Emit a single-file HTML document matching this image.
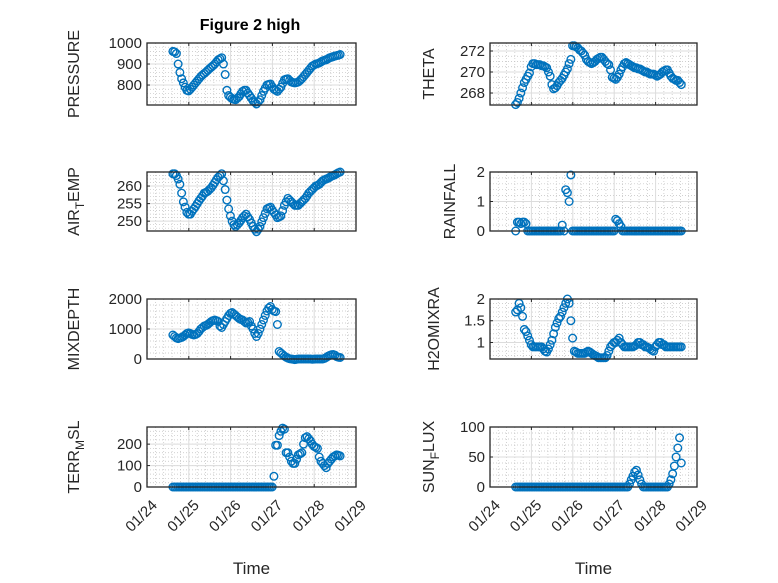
<!DOCTYPE html>
<html><head><meta charset="utf-8">
<style>
html,body{margin:0;padding:0;background:#fff;}
svg{display:block;font-family:"Liberation Sans","DejaVu Sans",sans-serif;}
</style></head>
<body>
<svg id="fig" width="778" height="583" viewBox="0 0 778 583">
<rect width="778" height="583" fill="#fff"/>
<text x="250" y="30" text-anchor="middle" font-size="16" font-weight="bold" fill="#000">Figure 2 high</text>
</svg>
<script>
const startDay = 0.62;
const endDay = 4.62;
const dayTicks = [0,1,2,3,4,5];
const dayLabels = ["01/24","01/25","01/26","01/27","01/28","01/29"];

const pressure = [960,958,950,900,860,830,810,790,775,772,780,790,800,810,820,830,840,848,855,862,870,878,885,892,900,910,920,925,930,900,850,775,750,742,735,732,730,738,745,758,770,775,775,762,750,738,725,718,710,720,730,750,770,785,800,803,805,792,780,775,770,780,790,808,825,828,830,822,815,812,810,812,815,822,830,840,850,860,870,880,890,895,900,902,905,910,915,918,920,925,930,932,935,938,940,942,945];
const theta = [266.9,267.1,267.5,268.0,268.5,269.0,269.3,269.6,269.9,270.5,270.8,270.8,270.7,270.7,270.7,270.6,270.6,270.5,270.4,270.0,269.6,268.8,268.4,268.5,268.7,269.0,269.2,269.4,269.7,270.0,270.3,270.8,271.2,272.5,272.5,272.4,272.3,272.1,272.0,271.8,271.6,271.2,271.0,270.9,270.8,270.9,271.0,271.2,271.3,271.4,271.4,271.2,271.0,270.8,270.7,270.2,269.5,269.4,269.3,269.5,269.8,270.2,270.5,270.8,270.9,270.8,270.7,270.6,270.5,270.4,270.4,270.3,270.3,270.2,270.1,270.0,270.0,269.9,269.8,269.8,269.8,269.7,269.6,269.7,269.8,270.0,270.1,270.2,270.2,269.9,269.6,269.4,269.3,269.2,269.2,269.0,268.8];
const airTemp = [263.5,263.5,263,262,260.5,258,255.5,254,252.5,252,252,252.8,253.5,254.2,255,255.8,256.5,257.2,258,258.2,258.5,259,259.5,260.2,261,261.8,262.5,263,263.5,261.5,259,256,253.5,251.5,250,249,248.5,249,249.5,250.2,251,251.5,252,251.2,250.5,249.5,248.5,247.7,247,247.7,248.5,249.8,251,252.2,253.5,253.8,254,253.2,252.5,251.8,251,251.2,251.5,253,254.5,255.5,256.5,256,255.5,255,254.5,254.5,254.5,255,255.5,256,256.5,257.2,258,258.5,259,259.5,260,260.2,260.5,261,261.5,261.8,262,262.2,262.5,262.8,263,263.2,263.5,263.8,264];
const rainfall = [0,0.3,0.3,0.25,0.3,0.3,0.25,0,0,0, 0,0,0,0,0,0,0,0,0,0, 0,0,0,0,0,0,0,0.2,0,1.4, 1.3,1.0,1.9,0,0,0,0,0,0,0, 0,0,0,0,0,0,0,0,0,0, 0,0,0,0,0,0,0,0,0.4,0.35, 0.25,0.15,0,0,0,0,0,0,0,0, 0,0,0,0,0,0,0,0,0,0, 0,0,0,0,0,0,0,0,0,0, 0,0,0,0,0,0,0];
const mixDepth = [800,750,700,680,700,720,750,800,850,870,850,820,800,820,850,920,1000,1050,1100,1120,1150,1200,1250,1280,1300,1280,1250,1100,1050,1150,1250,1350,1450,1520,1550,1500,1450,1400,1350,1320,1300,1250,1200,1220,1250,1100,1000,850,750,850,1000,1150,1300,1450,1600,1700,1750,1650,1600,1580,1150,250,200,150,100,60,30,10,0,-10,-20,-10,0,0,0,0,0,0,0,0,-10,-5,0,0,0,0,0,20,50,90,120,140,150,130,80,60,50];
const h2oMixRa = [1.7,1.75,1.9,1.8,1.6,1.3,1.25,1.15,1.05,0.95,0.9,0.9,0.9,0.9,0.9,0.9,0.85,0.8,0.78,0.85,0.95,1.05,1.2,1.35,1.45,1.55,1.6,1.7,1.8,1.9,2.0,1.9,1.5,1.1,0.8,0.78,0.75,0.75,0.75,0.75,0.75,0.78,0.8,0.78,0.75,0.72,0.7,0.68,0.65,0.65,0.65,0.65,0.65,0.7,0.8,0.9,0.95,1.0,1.0,1.05,1.1,1.0,0.95,0.9,0.9,0.9,0.9,0.9,0.9,0.92,0.95,1.0,1.0,0.95,0.95,0.9,0.9,0.88,0.85,0.82,0.8,0.9,0.95,1.0,1.0,0.95,0.95,0.9,0.9,0.9,0.9,0.9,0.9,0.9,0.9,0.9,0.9];
const terrMsl = [0,0,0,0,0,0,0,0,0,0, 0,0,0,0,0,0,0,0,0,0, 0,0,0,0,0,0,0,0,0,0, 0,0,0,0,0,0,0,0,0,0, 0,0,0,0,0,0,0,0,0,0, 0,0,0,0,0,0,0,0,50,195,195,240,260,275,270,160,160,140,120,110,110,130,150,155,160,200,230,235,225,215,200,190,185,180,140,120,110,100,90,110,120,130,140,145,150,148,145];
const sunFlux = [0,0,0,0,0,0,0,0,0,0, 0,0,0,0,0,0,0,0,0,0, 0,0,0,0,0,0,0,0,0,0, 0,0,0,0,0,0,0,0,0,0, 0,0,0,0,0,0,0,0,0,0, 0,0,0,0,0,0,0,0,0,0, 0,0,0,0,0,0,5,12,18,25, 28,20,12,5,0,0,0,0,0,0, 0,0,0,0,0,0,0,0,0,5, 12,22,35,50,65,82,40];

const pressureTicks = [800,900,1000];
const thetaTicks = [268,270,272];
const airTicks = [250,255,260];
const rainTicks = [0,1,2];
const mixTicks = [0,1000,2000];
const h2oTicks = [1,1.5,2];
const terrTicks = [0,100,200];
const sunTicks = [0,50,100];

const NS = "http://www.w3.org/2000/svg";
const svg = document.getElementById("fig");
function mk(tag, attrs, parent) {
  const e = document.createElementNS(NS, tag);
  for (const k in attrs) e.setAttribute(k, attrs[k]);
  (parent || svg).appendChild(e);
  return e;
}

const cols = [{x0:147,x1:356},{x0:490,x1:697}];
const rows = [{y0:43,y1:105},{y0:172,y1:231},{y0:299,y1:359},{y0:427,y1:487}];

const panels = [
  {name:"pressure",c:0,r:0,data:pressure,ymin:705,ymax:1000,ticks:pressureTicks,minor:20,label:["PRESSURE"],lx:79},
  {name:"theta",c:1,r:0,data:theta,ymin:266.86,ymax:272.76,ticks:thetaTicks,minor:0.5,label:["THETA"],lx:434},
  {name:"air-temp",c:0,r:1,data:airTemp,ymin:247.2,ymax:264,ticks:airTicks,minor:1,label:["AIR","T","EMP"],lx:79},
  {name:"rainfall",c:1,r:1,data:rainfall,ymin:0,ymax:2,ticks:rainTicks,minor:0.2,label:["RAINFALL"],lx:455},
  {name:"mixdepth",c:0,r:2,data:mixDepth,ymin:0,ymax:2000,ticks:mixTicks,minor:200,label:["MIXDEPTH"],lx:79},
  {name:"h2omixra",c:1,r:2,data:h2oMixRa,ymin:0.62,ymax:2,ticks:h2oTicks,minor:0.1,label:["H2OMIXRA"],lx:439},
  {name:"terr-msl",c:0,r:3,data:terrMsl,ymin:0,ymax:280,ticks:terrTicks,minor:20,label:["TERR","M","SL"],lx:79},
  {name:"sun-flux",c:1,r:3,data:sunFlux,ymin:0,ymax:100,ticks:sunTicks,minor:10,label:["SUN","F","LUX"],lx:434}
];

panels.forEach(p => {
  const col = cols[p.c], row = rows[p.r];
  const xs = t => col.x0 + (t / 5) * (col.x1 - col.x0);
  const ys = v => row.y1 - (v - p.ymin) / (p.ymax - p.ymin) * (row.y1 - row.y0);
  const g = mk("g", {});
  
  
  mk("rect", {x:col.x0, y:row.y0, width:col.x1-col.x0, height:row.y1-row.y0, fill:"#fff"}, g);
  for (let d = 0; d < 5; d++) for (let m = 1; m < 5; m++) {
    const x = xs(d + m/5);
    mk("line",{x1:x,x2:x,y1:row.y0,y2:row.y1,stroke:"#c0c0c0","stroke-width":0.7,"stroke-dasharray":"1,2"},g);
  }
  const start = Math.ceil(p.ymin / p.minor) * p.minor;
  for (let v = start; v <= p.ymax + 1e-9; v += p.minor) {
    const y = ys(v);
    mk("line",{x1:col.x0,x2:col.x1,y1:y,y2:y,stroke:"#c0c0c0","stroke-width":0.7,"stroke-dasharray":"1,2"},g);
  }
  dayTicks.forEach(d => {
    const x = xs(d);
    mk("line",{x1:x,x2:x,y1:row.y0,y2:row.y1,stroke:"#dcdcdc","stroke-width":1},g);
    mk("line",{x1:x,x2:x,y1:row.y1,y2:row.y1-3,stroke:"#262626","stroke-width":1},g);
    mk("line",{x1:x,x2:x,y1:row.y0,y2:row.y0+3,stroke:"#262626","stroke-width":1},g);
  });
  p.ticks.forEach(v => {
    const y = ys(v);
    mk("line",{x1:col.x0,x2:col.x1,y1:y,y2:y,stroke:"#dcdcdc","stroke-width":1},g);
    mk("line",{x1:col.x0,x2:col.x0+3,y1:y,y2:y,stroke:"#262626","stroke-width":1},g);
    const t = mk("text",{x:col.x0-5,y:y+5,"text-anchor":"end","font-size":15,fill:"#262626"},g);
    
    
    t.textContent = String(v);
  });
  const n = p.data.length;
  p.data.forEach((v, i) => {
    const t = startDay + i * (endDay - startDay) / (n - 1);
    const c = mk("circle",{cx:xs(t),cy:ys(v),r:3.8,fill:"none",stroke:"#0072BD","stroke-width":1.4},g);
    
    
  });
  mk("rect",{x:col.x0,y:row.y0,width:col.x1-col.x0,height:row.y1-row.y0,fill:"none",stroke:"#262626","stroke-width":1.3},g);
  const cy = (row.y0 + row.y1) / 2;
  const lab = mk("text",{x:p.lx,y:cy,transform:`rotate(-90 ${p.lx} ${cy})`,"text-anchor":"middle","font-size":16,fill:"#262626"},g);
  
  
  if (p.label.length === 1) lab.textContent = p.label[0];
  else {
    const a = mk("tspan",{},lab); a.textContent = p.label[0];
    const b = mk("tspan",{dy:5,"font-size":12},lab); b.textContent = p.label[1];
    const c2 = mk("tspan",{dy:-5},lab); c2.textContent = p.label[2];
  }
  if (p.r === 3) {
    dayTicks.forEach((d, i) => {
      const x = xs(d), y = row.y1 + 12;
      const t = mk("text",{x:x+4,y:y,transform:`rotate(-45 ${x+4} ${y})`,"text-anchor":"end","font-size":15,fill:"#262626",dy:10},g);
      
      
      t.textContent = dayLabels[i];
    });
    const xt = mk("text",{x:(col.x0+col.x1)/2,y:574,"text-anchor":"middle","font-size":17,fill:"#262626"},g);
    
    
    xt.textContent = "Time";
  }
});
</script>
</body></html>
